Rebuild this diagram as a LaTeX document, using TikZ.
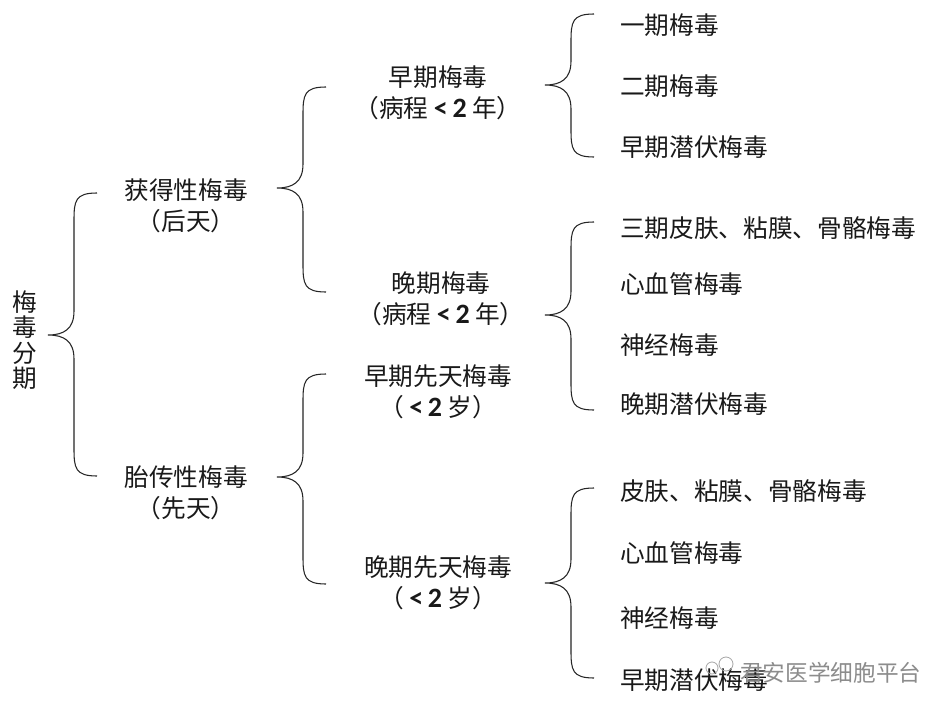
\documentclass[tikz,border=0pt]{standalone}
\usepackage{fontspec}
\setmainfont{Noto Sans CJK SC}
\newfontfamily\latfont{Carlito}
\newcommand\mybrace[5]{% #1 name, #2 tip x, #3 top y, #4 tip y, #5 bottom y
  \coordinate (#1-tip) at (#2,#4);
  \coordinate (#1-top) at ({#2+49},#3);
  \coordinate (#1-bot) at ({#2+49},#5);
  \draw[bracestyle] (#1-top) .. controls ({#2+27},#3) and ({#2+26},{#3+8}) .. ({#2+26},{#3+28})
    -- ({#2+26},{#4-24}) .. controls ({#2+26},{#4-6}) and ({#2+16},#4) .. (#1-tip)
    .. controls ({#2+16},#4) and ({#2+26},{#4+6}) .. ({#2+26},{#4+24})
    -- ({#2+26},{#5-28}) .. controls ({#2+26},{#5-8}) and ({#2+27},#5) .. (#1-bot);}
\newcommand\lt[1]{{\latfont\bfseries\fontsize{21pt}{23pt}\selectfont #1}}
\begin{document}
\begin{tikzpicture}[x=0.75pt,y=-0.75pt,
  bracestyle/.style={draw=black!85,line width=0.8pt},
  lbl/.style={inner sep=0pt,font=\fontsize{18.5pt}{23pt}\selectfont,text=black!90},
  mid/.style={lbl,align=center,anchor=center},
  leaf/.style={lbl,anchor=west},
  wm/.style={inner sep=0pt,font=\fontsize{17pt}{20pt}\selectfont,text=black!45,anchor=west}]
\useasboundingbox (0,0) rectangle (951,714);
\fill[white] (0,0) rectangle (951,714);

% root
\node[lbl,align=center,font=\fontsize{18.5pt}{19pt}\selectfont] (root) at (25,340) {梅\\毒\\分\\期};

% level 1
\node[mid] (acq) at (186,206) {获得性梅毒\\（后天）};
\node[mid] (con) at (186,493) {胎传性梅毒\\（先天）};

% level 2
\node[mid] (early) at (438,93) {早期梅毒\\（病程 \lt{<\,2} 年）};
\node[mid] (late) at (441,299) {晚期梅毒\\（病程 \lt{<\,2} 年）};
\node[mid] (econ) at (438,392) {早期先天梅毒\\（ \lt{<\,2} 岁）};
\node[mid] (lcon) at (438,583) {晚期先天梅毒\\（ \lt{<\,2} 岁）};

% leaves
\node[leaf] (e1) at (620,25) {一期梅毒};
\node[leaf] (e2) at (620,86) {二期梅毒};
\node[leaf] (e3) at (620,147) {早期潜伏梅毒};
\node[leaf] (l1) at (620,228) {三期皮肤、粘膜、骨骼梅毒};
\node[leaf] (l2) at (620,284) {心血管梅毒};
\node[leaf] (l3) at (620,345) {神经梅毒};
\node[leaf] (l4) at (620,404) {晚期潜伏梅毒};
\node[leaf] (c1) at (620,491) {皮肤、粘膜、骨骼梅毒};
\node[leaf] (c2) at (620,553) {心血管梅毒};
\node[leaf] (c3) at (620,618) {神经梅毒};
\node[leaf] (c4) at (620,680) {早期潜伏梅毒};

% braces
\mybrace{b1}{48}{193}{335}{476}
\mybrace{b2}{277}{87}{188}{292}
\mybrace{b3}{277}{374}{477}{584}
\mybrace{b4}{545}{14}{85}{157}
\mybrace{b5}{545}{222}{315}{410}
\mybrace{b6}{545}{488}{583}{678}

% watermark
\node[wm] (wmtext) at (740,673) {君安医学细胞平台};
\draw[black!35,line width=0.6pt] (712,668) circle (6) (726,664) circle (7);
\end{tikzpicture}
\end{document}
